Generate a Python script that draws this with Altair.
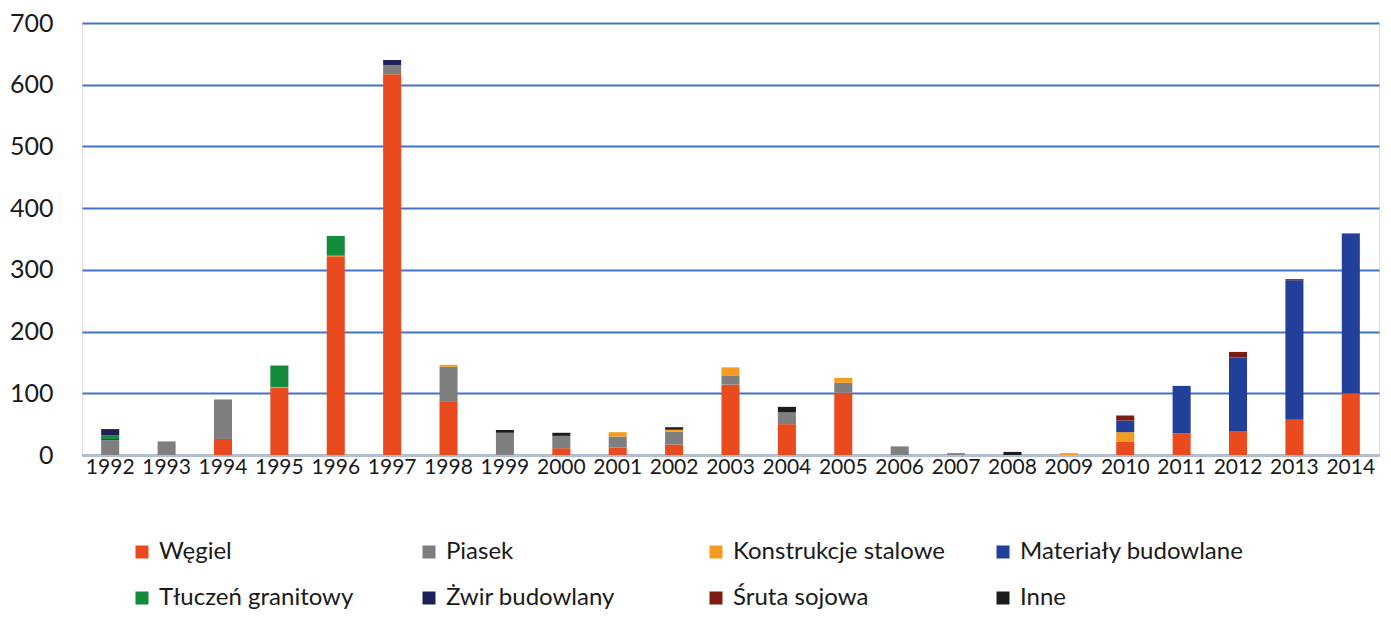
import altair as alt
import pandas as pd

years = [str(y) for y in range(1992, 2015)]

series_names = ["Węgiel", "Piasek", "Konstrukcje stalowe", "Materiały budowlane",
                "Tłuczeń granitowy", "Żwir budowlany", "Śruta sojowa", "Inne"]
series_colors = ["#E94B1F", "#7F7F7F", "#F39C1F", "#22409A",
                 "#138A3C", "#1E2157", "#7E1B12", "#1C1C1C"]

wegiel = [0, 0, 26, 109, 322, 617, 86, 0, 11, 12, 17, 114, 50, 101, 0, 0, 0, 0, 22, 35, 39, 57, 100]
piasek = [24, 22, 64, 0, 0, 15, 57, 36, 20, 18, 21, 15, 19, 16, 14, 3, 0, 0, 0, 0, 0, 0, 0]
konstrukcje = [0, 0, 0, 1, 1, 0, 3, 0, 0, 7, 3, 13, 0, 8, 0, 0, 0, 3, 15, 0, 0, 0, 0]
materialy = [2, 0, 0, 0, 0, 0, 0, 0, 0, 0, 0, 0, 0, 0, 0, 0, 0, 0, 19, 77, 119, 226, 258]
tluczen = [6, 0, 0, 35, 32, 0, 0, 0, 0, 0, 0, 0, 0, 0, 0, 0, 0, 0, 0, 0, 0, 0, 0]
zwir = [10, 0, 0, 0, 0, 8, 0, 0, 0, 0, 0, 0, 0, 0, 0, 0, 0, 0, 0, 0, 0, 0, 0]
sruta = [0, 0, 0, 0, 0, 0, 0, 0, 0, 0, 0, 0, 0, 0, 0, 0, 0, 0, 8, 0, 9, 2, 1]
inne = [0, 0, 0, 0, 0, 0, 0, 4.5, 5, 0, 4, 0, 9, 0, 0, 0, 5, 0, 0, 0, 0, 0, 0]

y_ticks = [0, 100, 200, 300, 400, 500, 600, 700]

all_series = [wegiel, piasek, konstrukcje, materialy, tluczen, zwir, sruta, inne]
rows = []
for si, (name, vals) in enumerate(zip(series_names, all_series)):
    for yr, v in zip(years, vals):
        rows.append({"Rok": yr, "Ładunek": name, "Wartość": v, "kolejnosc": si})
df = pd.DataFrame(rows)

FONT = "Lato"

chart = alt.Chart(df).mark_bar().encode(
    x=alt.X("Rok:N", sort=years, title=None,
            scale=alt.Scale(paddingInner=0.68, paddingOuter=0.34),
            axis=alt.Axis(labelAngle=0, labelFontSize=21, labelFont=FONT, labelColor="#1a1a1a",
                          ticks=False, tickSize=0, labelPadding=1, domainColor="#BFBFBF",
                          domainWidth=2, grid=False)),
    y=alt.Y("Wartość:Q", title=None, stack="zero",
            scale=alt.Scale(domain=[0, 700], nice=False),
            axis=alt.Axis(values=y_ticks, labelFontSize=25, labelFont=FONT, labelColor="#1a1a1a",
                          ticks=False, tickSize=0, labelPadding=29, domain=False,
                          grid=True, gridColor="#4472C4", gridWidth=2)),
    color=alt.Color("Ładunek:N", sort=series_names,
                    scale=alt.Scale(domain=series_names, range=series_colors),
                    legend=alt.Legend(title=None, orient="none", legendX=48, legendY=517,
                                      direction="horizontal",
                                      columns=4, gridAlign="all", columnPadding=34, rowPadding=22,
                                      symbolType="square", symbolSize=169, symbolStrokeWidth=0,
                                      labelFontSize=24, labelFont=FONT, labelColor="#1a1a1a",
                                      labelOffset=5, labelLimit=400)),
    order=alt.Order("kolejnosc:Q", sort="ascending"),
).properties(
    width=1297, height=432,
    autosize=alt.AutoSizeParams(type="none"),
    padding={"left": 74, "top": 15, "right": 4, "bottom": 158},
).configure_view(stroke=None).configure(background="white")

chart.save("out.html", embed_options={"renderer": "svg", "actions": False})
